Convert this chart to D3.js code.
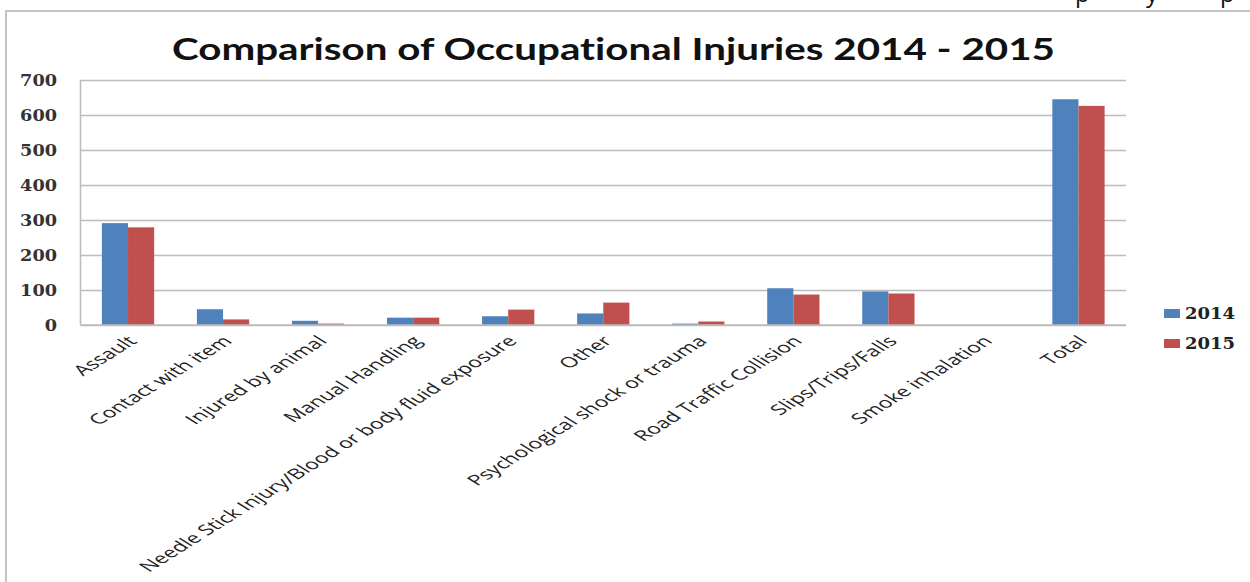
<!DOCTYPE html>
<html>
<head>
<meta charset="utf-8">
<script src="https://cdn.jsdelivr.net/npm/d3@7"></script>
<style>
  body { margin: 0; background: #fff; }
  svg { display: block; }
</style>
</head>
<body>
<div class="bar-chart-container"></div>
<script>
// data
const categories = ['Assault', 'Contact with item', 'Injured by animal', 'Manual Handling',
  'Needle Stick Injury/Blood or body fluid exposure', 'Other', 'Psychological shock or trauma',
  'Road Traffic Collision', 'Slips/Trips/Falls', 'Smoke inhalation', 'Total'];
const values2014 = [291, 45, 12, 21, 25, 33, 4, 105, 96, 0, 645];
const values2015 = [279, 16, 4, 21, 44, 64, 10, 87, 90, 0, 626];
const seriesNames = ['2014', '2015'];
const yTicks = [0, 100, 200, 300, 400, 500, 600, 700];
const titleText = 'Comparison of Occupational Injuries 2014 - 2015';

const colors = {'2014': '#4f81bd', '2015': '#c0504d'};

const barData = categories.map((c, i) => ({cat: c, '2014': values2014[i], '2015': values2015[i]}));

setupCanvas(barData);

function setupCanvas(barData){
    const svg_width = 1250;
    const svg_height = 582;
    const plot = {left: 80.5, right: 1126, top: 80, bottom: 325};

    const svg = d3.select('.bar-chart-container').append('svg')
        .attr('width', svg_width).attr('height', svg_height);

    // cut off text at the very top (page above the chart)
    const topText = svg.append('g').attr('class', 'top-cut')
        .style('font-family', '"Open Sans", sans-serif').style('font-size', '24px').style('fill', '#111');
    [['p', 1075], ['y', 1146], ['p', 1220]].forEach(d => {
        topText.append('text').attr('x', d[1]).attr('y', 2).text(d[0]);
    });

    // frame
    svg.append('rect')
        .attr('x', 6).attr('y', 11)
        .attr('width', 1300).attr('height', 700)
        .style('fill', '#fff').style('stroke', '#c4c4c4').style('stroke-width', 2);

    // scales
    const xScale = d3.scaleBand().domain(categories)
        .range([plot.left, plot.right])
        .paddingInner(0.45).paddingOuter(0.225);
    const xSub = d3.scaleBand().domain(seriesNames).range([0, xScale.bandwidth()]);
    const yScale = d3.scaleLinear().domain([0, 700]).range([plot.bottom, plot.top]);

    // grid
    const yGrid = d3.axisLeft(yScale).tickValues(yTicks)
        .tickSize(-(plot.right - plot.left)).tickFormat('');
    const gridDraw = svg.append('g').attr('class', 'grid')
        .attr('transform', `translate(${plot.left},0)`)
        .call(yGrid);
    gridDraw.select('.domain').remove();
    gridDraw.selectAll('line').style('stroke', '#bdbdbd').style('stroke-width', 1.6);

    // left axis line
    svg.append('line')
        .attr('x1', plot.left).attr('x2', plot.left)
        .attr('y1', yScale(700)).attr('y2', yScale(0))
        .style('stroke', '#bdbdbd').style('stroke-width', 1.6);

    // tick labels
    svg.append('g').attr('class', 'y-labels')
        .selectAll('text')
        .data(yTicks)
        .enter()
        .append('text')
        .attr('x', 57)
        .attr('y', d => yScale(d))
        .attr('dy', '0.36em')
        .attr('text-anchor', 'end')
        .attr('textLength', d => String(d).length * 12.3)
        .attr('lengthAdjust', 'spacingAndGlyphs')
        .style('font-family', '"DejaVu Serif", serif')
        .style('font-weight', 'bold')
        .style('font-size', '16px')
        .style('fill', '#333')
        .text(d => d);

    // bars
    const groups = svg.selectAll('.bar-group')
        .data(barData)
        .enter()
        .append('g')
        .attr('class', 'bar-group')
        .attr('transform', d => `translate(${xScale(d.cat)},0)`);

    groups.selectAll('rect')
        .data(d => seriesNames.map(s => ({s: s, v: d[s]})))
        .enter()
        .append('rect')
        .attr('x', d => xSub(d.s))
        .attr('y', d => yScale(d.v))
        .attr('width', xSub.bandwidth())
        .attr('height', d => yScale(0) - yScale(d.v))
        .style('fill', d => colors[d.s]);

    // x axis line
    svg.append('line')
        .attr('x1', plot.left).attr('x2', plot.right)
        .attr('y1', yScale(0)).attr('y2', yScale(0))
        .style('stroke', '#bdbdbd').style('stroke-width', 1.6);

    // category labels (picture is stretched sideways, so stretch the text too)
    svg.append('g').attr('class', 'x-labels')
        .selectAll('text')
        .data(categories)
        .enter()
        .append('text')
        .attr('transform', d => `translate(${xScale(d) + xScale.bandwidth() / 2 + 10},342) scale(1.6,1) rotate(-45)`)
        .attr('text-anchor', 'end')
        .style('font-family', '"Open Sans", sans-serif')
        .style('font-size', '14.5px')
        .style('fill', '#222')
        .text(d => d);

    // title
    svg.append('text')
        .attr('x', 172).attr('y', 60)
        .attr('textLength', 883)
        .attr('lengthAdjust', 'spacingAndGlyphs')
        .style('font-family', 'Lato, sans-serif')
        .style('font-weight', 'bold')
        .style('font-size', '31px')
        .style('font-variant-ligatures', 'none')
        .style('fill', '#111')
        .text(titleText);

    // legend
    const legend = svg.append('g').attr('class', 'legend')
        .selectAll('g')
        .data(seriesNames)
        .enter()
        .append('g')
        .attr('transform', (d, i) => `translate(1164,${309 + i * 30})`);
    legend.append('rect')
        .attr('width', 16).attr('height', 9)
        .style('fill', d => colors[d]);
    legend.append('text')
        .attr('x', 21).attr('y', 9.5)
        .attr('textLength', 50)
        .attr('lengthAdjust', 'spacingAndGlyphs')
        .style('font-family', '"DejaVu Serif", serif')
        .style('font-weight', 'bold')
        .style('font-size', '16px')
        .style('fill', '#222')
        .text(d => d);
}
</script>
</body>
</html>
